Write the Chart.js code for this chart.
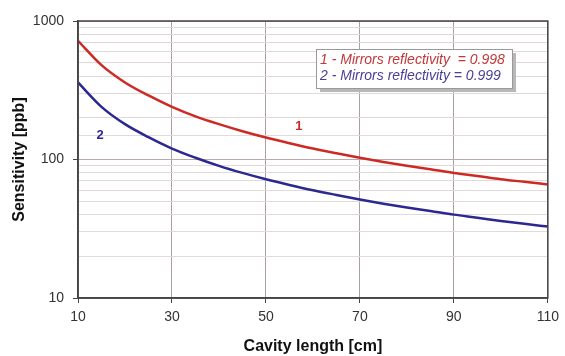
<!DOCTYPE html>
<html>
<head>
<meta charset="utf-8">
<script src="https://cdn.jsdelivr.net/npm/chart.js@4/dist/chart.umd.min.js"></script>
<style>
  body{margin:0;background:#fff;}
  #wrap{width:565px;height:356px;position:relative;}
</style>
</head>
<body>
<div id="wrap"><canvas id="sensChart" width="565" height="356"></canvas></div>
<script>
// cavity length [cm]
const lengths = [10,15,20,25,30,35,40,45,50,55,60,65,70,75,80,85,90,95,100,105,110];
// sensitivity [ppb], mirrors R = 0.998
const sens998 = [720,480,360,290,240,205,180,160,144,131,120,111,103,96,90,85,80,76,72,69,66];
// sensitivity [ppb], mirrors R = 0.999
const sens999 = [360,240,180,145,120,103,90,80,72,65.5,60,55.5,51.5,48,45,42.5,40,38,36,34.3,32.8];
const xTicks = [10,30,50,70,90,110];
const yTicks = [10,100,1000];
const legendLines = ['1 - Mirrors reflectivity  = 0.998','2 - Mirrors reflectivity = 0.999'];

const red = '#cc2a24';
const blue = '#2b2890';

const toPoints = (ys) => lengths.map((x,i)=>({x:x,y:ys[i]}));

const extras = {
    id:'extras',
    afterDraw(chart){
        const ctx = chart.ctx;
        const a = chart.chartArea;
        const xs = chart.scales.x, ys = chart.scales.y;
        ctx.save();
        // frame
        ctx.strokeStyle = '#444';
        ctx.lineWidth = 1.5;
        ctx.strokeRect(a.left, a.top, a.right - a.left, a.bottom - a.top);
        // curve labels
        ctx.font = 'bold 13px "Liberation Sans", Arial, sans-serif';
        ctx.textAlign = 'center';
        ctx.textBaseline = 'middle';
        ctx.fillStyle = red;
        ctx.fillText('1', xs.getPixelForValue(57), ys.getPixelForValue(172));
        ctx.fillStyle = blue;
        ctx.fillText('2', xs.getPixelForValue(14.7), ys.getPixelForValue(150));
        // legend box
        const bx = 316, by = 49, bw = 196, bh = 39;
        ctx.fillStyle = '#b8b8b8';
        ctx.fillRect(bx + 4, by + 4, bw, bh);
        ctx.fillStyle = '#fff';
        ctx.fillRect(bx, by, bw, bh);
        ctx.strokeStyle = '#999';
        ctx.lineWidth = 1;
        ctx.strokeRect(bx + 0.5, by + 0.5, bw, bh);
        ctx.font = 'italic 14px "Liberation Sans", Arial, sans-serif';
        ctx.textAlign = 'left';
        ctx.fillStyle = '#c0383a';
        ctx.fillText(legendLines[0], bx + 4, by + 11);
        ctx.fillStyle = '#4a3f96';
        ctx.fillText(legendLines[1], bx + 4, by + 27);
        ctx.restore();
    }
};

const ctx = document.getElementById('sensChart').getContext('2d');
new Chart(ctx, {
    type:'line',
    data:{
        datasets:[
            {label:'R = 0.998', data:toPoints(sens998), borderColor:red, borderWidth:2.5, pointRadius:0, cubicInterpolationMode:'monotone', fill:false},
            {label:'R = 0.999', data:toPoints(sens999), borderColor:blue, borderWidth:2.5, pointRadius:0, cubicInterpolationMode:'monotone', fill:false}
        ]
    },
    options:{
        responsive:false,
        animation:false,
        layout:{padding:{top:21, right:15, left:0, bottom:0}},
        plugins:{legend:{display:false}, tooltip:{enabled:false}},
        scales:{
            x:{
                type:'linear',
                min:10, max:110,
                afterBuildTicks:(s)=>{ s.ticks = xTicks.map(v=>({value:v})); },
                ticks:{color:'#333', font:{size:14, family:'"Liberation Sans", Arial, sans-serif'}, padding:6, maxRotation:0},
                grid:{color:'#aaa2a2', tickColor:'#444', tickLength:5},
                border:{color:'#444', width:1.5},
                title:{display:true, text:'Cavity length [cm]', color:'#111', font:{size:16, weight:'bold', family:'"Liberation Sans", Arial, sans-serif'}, padding:{top:0,bottom:0}},
                afterFit:(s)=>{ s.height = 58; }
            },
            y:{
                type:'logarithmic',
                min:10, max:1000,
                ticks:{
                    color:'#333',
                    font:{size:14, family:'"Liberation Sans", Arial, sans-serif'},
                    padding:9,
                    autoSkip:false,
                    callback:(v)=> yTicks.includes(v) ? String(v) : ''
                },
                grid:{
                    color:(c)=> yTicks.includes(c.tick.value) ? '#b8aaaa' : '#e2dada',
                    tickColor:(c)=> yTicks.includes(c.tick.value) ? '#444' : 'rgba(0,0,0,0)',
                    tickLength:5
                },
                border:{color:'#444', width:1.5},
                title:{display:true, text:'Sensitivity [ppb]', color:'#111', font:{size:16, weight:'bold', family:'"Liberation Sans", Arial, sans-serif'}, padding:{top:10,bottom:0}},
                afterFit:(s)=>{ s.width = 78; }
            }
        }
    },
    plugins:[extras]
});
</script>
</body>
</html>
